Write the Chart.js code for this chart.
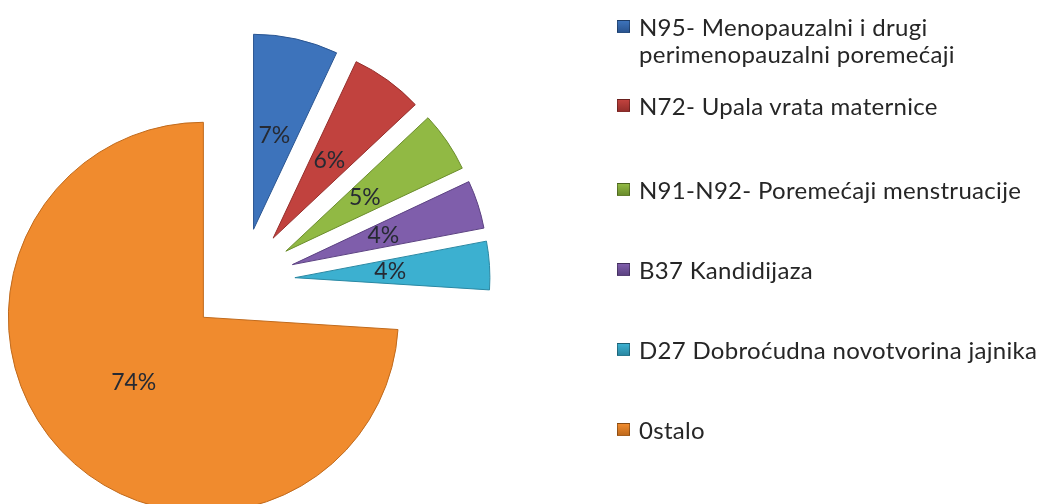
<!DOCTYPE html>
<html>
<head>
<meta charset="utf-8">
<script src="https://cdn.jsdelivr.net/npm/chart.js@4.4.1/dist/chart.umd.min.js"></script>
<style>
  body { margin: 0; background: #fff; }
  #wrap { position: relative; width: 1040px; height: 504px; overflow: hidden; }
  #chart { position: absolute; left: 0; top: 0; }
  .item { position: absolute; left: 617px; font-family: Lato, "Open Sans", sans-serif; font-size: 24px; line-height: 27px; letter-spacing: 0.3px; color: #262626; white-space: nowrap; }
  .item .box { position: absolute; left: 0; top: 7px; width: 11px; height: 11px; border: 1px solid rgba(0,0,0,0.3); }
  .item .txt { margin-left: 22px; display: block; }
</style>
</head>
<body>
<div id="wrap">
  <canvas id="chart" width="1040" height="504"></canvas>
  <div id="legend"></div>
</div>
<script>
const categories = [
  'N95- Menopauzalni i drugi\nperimenopauzalni poremećaji',
  'N72- Upala vrata maternice',
  'N91-N92- Poremećaji menstruacije',
  'B37 Kandidijaza',
  'D27 Dobroćudna novotvorina jajnika',
  '0stalo'
];
const shares = [7, 6, 5, 4, 4, 74];
const shareLabels = ['7%', '6%', '5%', '4%', '4%', '74%'];

const baseColors = ['#3d73bb', '#c1423e', '#91b944', '#7f5eab', '#3cb0d0', '#f08b2e'];
const edgeColors = ['#2a5591', '#952e2b', '#6b8d2c', '#5c4282', '#2a88a3', '#c06a1c'];

const EXPLODE = 53;          // px each slice is pulled out
const LEGEND_Y = [27, 106, 190, 270, 350, 430]; // middle of the capitals, first line

// legend built as html so the two-line entry wraps like the original
const legend = document.getElementById('legend');
categories.forEach((c, i) => {
  const div = document.createElement('div');
  div.className = 'item';
  div.style.top = (LEGEND_Y[i] - 14) + 'px';
  const box = document.createElement('span');
  box.className = 'box';
  box.style.background = 'linear-gradient(' + baseColors[i] + ',' + edgeColors[i] + ')';
  const txt = document.createElement('span');
  txt.className = 'txt';
  txt.innerHTML = c.replace('\n', '<br>');
  div.appendChild(box);
  div.appendChild(txt);
  legend.appendChild(div);
});

function sliceFill(context) {
  const i = context.dataIndex;
  const arc = context.element;
  if (!arc || !arc.outerRadius) return baseColors[i];
  const g = context.chart.ctx.createRadialGradient(arc.x, arc.y, 0, arc.x, arc.y, arc.outerRadius);
  g.addColorStop(0, edgeColors[i]);
  g.addColorStop(0.25, baseColors[i]);
  g.addColorStop(0.92, baseColors[i]);
  g.addColorStop(1, edgeColors[i]);
  return g;
}

// pull every slice out along its bisector
const explodePlugin = {
  id: 'explode',
  beforeDatasetDraw(chart, args) {
    const ctx = chart.ctx;
    args.meta.data.forEach(arc => {
      const mid = (arc.startAngle + arc.endAngle) / 2;
      ctx.save();
      ctx.translate(Math.cos(mid) * EXPLODE, Math.sin(mid) * EXPLODE);
      arc.draw(ctx);
      ctx.restore();
    });
    return false;
  }
};

const pctPlugin = {
  id: 'pct',
  afterDatasetsDraw(chart) {
    const ctx = chart.ctx;
    const meta = chart.getDatasetMeta(0);
    ctx.save();
    ctx.font = '23px Lato, "Open Sans", sans-serif';
    ctx.fillStyle = '#262a33';
    ctx.textAlign = 'center';
    ctx.textBaseline = 'middle';
    meta.data.forEach((arc, i) => {
      const mid = (arc.startAngle + arc.endAngle) / 2;
      const r = EXPLODE + arc.outerRadius * 0.49;
      ctx.fillText(shareLabels[i], arc.x + Math.cos(mid) * r, arc.y + Math.sin(mid) * r);
    });
    ctx.restore();
  }
};

new Chart(document.getElementById('chart'), {
  type: 'pie',
  data: {
    labels: categories,
    datasets: [{
      data: shares,
      backgroundColor: sliceFill,
      borderColor: edgeColors,
      borderWidth: 1,
      radius: 195
    }]
  },
  options: {
    responsive: false,
    animation: false,
    layout: { padding: { left: 0, right: 556, top: 58, bottom: 0 } },
    plugins: {
      legend: { display: false },
      tooltip: { enabled: false }
    }
  },
  plugins: [explodePlugin, pctPlugin]
});
</script>
</body>
</html>
